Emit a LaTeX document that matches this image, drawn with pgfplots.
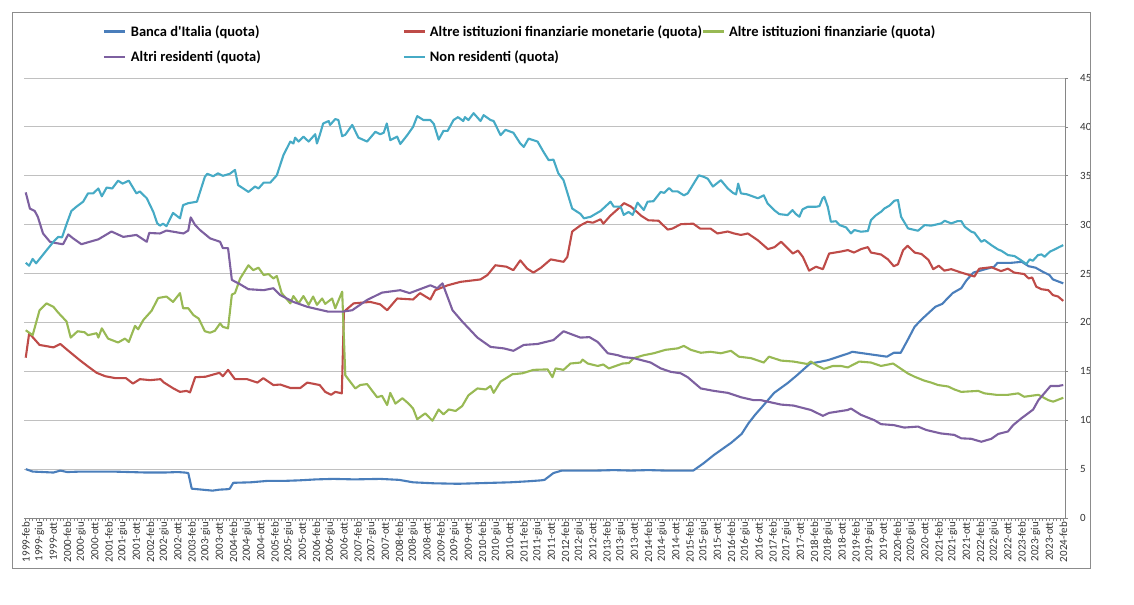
\documentclass[border=0pt]{standalone}
\usepackage{pgfplots}
\pgfplotsset{compat=1.18}
\usepackage{fontspec}
\setmainfont{Carlito}
\newfontfamily\carlito{Carlito}
\definecolor{cBI}{HTML}{4A7EBB}
\definecolor{cIFM}{HTML}{BE4B48}
\definecolor{cIF}{HTML}{98B954}
\definecolor{cAR}{HTML}{7D60A0}
\definecolor{cNR}{HTML}{46AAC5}
\definecolor{gridGray}{HTML}{C0C0C0}
\definecolor{axisGray}{HTML}{868686}
\definecolor{frameGray}{HTML}{8C8C8C}
\definecolor{labelGray}{HTML}{333333}
\begin{document}
\begin{tikzpicture}
\begin{axis}[
  scale only axis, width=1041pt, height=440pt,
  xmin=-0.5, xmax=300.5, ymin=0, ymax=45,
  axis x line*=bottom, axis y line*=right,
  axis line style={axisGray, line width=0.8pt},
  ytick={0,5,...,45},
  ymajorgrids, grid style={gridGray, line width=0.9pt},
  xtick={0,4,...,300}, minor x tick num=3,
  tick align=outside, major tick length=3pt, minor tick length=3pt,
  tick style={axisGray, line width=0.6pt},
  every tick label/.append style={font=\carlito\fontsize{11}{12}\selectfont, text=labelGray},
  /pgf/number format/assume math mode=true,
  xticklabel={\pgfmathtruncatemacro{\yr}{1999+floor(\ticknum/3)}\pgfmathtruncatemacro{\mm}{mod(\ticknum,3)}\yr-\ifcase\mm feb\or giu\or ott\fi},
  xticklabel style={rotate=90, anchor=east, inner sep=1pt},
  yticklabel style={anchor=west, inner sep=0pt, xshift=12pt},
  clip=false,
  every axis plot/.append style={line width=2.1pt, line join=round, mark=none},
  legend columns=3,
  legend cell align=left,
  legend image code/.code={\draw[#1] (0pt,0pt) -- (21pt,0pt);},
  legend style={at={(axis description cs:0.0755,1.12)}, anchor=north west,
    draw=none, fill=none, inner sep=0pt,
    font=\carlito\fontsize{14.5}{16}\bfseries\selectfont,
    nodes={inner sep=0pt},
    row sep=13pt,
    /tikz/column 1/.style={column sep=5pt},
    /tikz/column 2/.style={column sep=142pt},
    /tikz/column 3/.style={column sep=4pt},
    /tikz/column 4/.style={column sep=0pt},
    /tikz/column 5/.style={column sep=4pt}},
]
\path (axis description cs:-0.02305,-0.19545) rectangle (axis description cs:1.06628,1.17727);
\draw[frameGray, line width=1pt] (axis description cs:-0.01105,-0.11364) rectangle (axis description cs:1.02450,1.14773);
% Banca d'Italia
\addplot[cBI] table {
0 5.0
2 4.75
5 4.7
8 4.65
10 4.85
12 4.7
16 4.75
20 4.75
25 4.75
30 4.7
35 4.65
40 4.65
44 4.7
46 4.65
47 4.6
48 3.0
51 2.9
54 2.8
56 2.9
58.5 2.95
59 3.0
60 3.6
65 3.65
70 3.8
75 3.8
79 3.85
84 3.95
89 4.0
95 3.95
102.5 4.0
108 3.9
112 3.65
118 3.55
125 3.5
130 3.55
135 3.6
140 3.65
145 3.75
149 3.85
150 3.9
152.6 4.6
155 4.85
165 4.85
170 4.9
175 4.85
180 4.9
185 4.85
190 4.85
193 4.85
196 5.6
199 6.45
202 7.2
204 7.7
207 8.6
209 9.7
211 10.6
213 11.4
216.4 12.8
220.3 13.8
223 14.6
226.8 15.8
230 16.0
232 16.15
235 16.5
238 16.85
239 17.0
243 16.8
246 16.65
249 16.5
251 16.9
253 16.9
255 18.2
257 19.55
259 20.3
261 20.95
263 21.6
265 21.9
268 23.0
270.5 23.5
272 24.3
274 25.1
277 25.4
280 25.7
281 26.1
285 26.1
288 26.2
290 25.75
292 25.6
294 25.2
296 24.85
297 24.4
300 24.0
};
\addlegendentry{Banca d'Italia (quota)}
% Altre IFM
\addplot[cIFM] table {
0 16.4
1 18.9
4 17.7
8 17.45
10 17.8
12 17.2
15.6 16.15
18 15.5
20.5 14.85
23 14.5
26 14.3
29 14.3
31 13.75
33 14.2
36 14.1
39 14.2
40 13.85
42.7 13.25
44.6 12.9
46.5 13.0
47.5 12.85
49 14.4
52 14.45
56 14.85
57 14.5
58.5 15.15
60.5 14.2
64 14.2
67 13.85
68.7 14.3
71.6 13.6
73.6 13.65
76.5 13.3
79.4 13.3
81.4 13.85
85 13.6
86.6 12.9
88.3 12.6
89.5 12.9
91.4 12.75
92 21.1
94.8 21.95
99.6 22.1
102.5 21.85
104.5 21.25
107.4 22.45
112 22.35
114 23.0
117 22.35
118.4 23.3
122 23.8
125.7 24.15
131.5 24.4
133.5 24.85
135.8 25.85
139 25.7
141 25.35
143 26.35
145 25.5
146.8 25.1
149 25.6
151.8 26.45
155.5 26.2
156.6 26.7
158 29.3
160.5 29.95
162.4 30.3
164 30.2
166.2 30.55
167 30.1
169 30.9
172 31.85
173 32.2
175 31.85
178 30.9
180 30.45
183 30.4
185.6 29.5
187 29.6
189.4 30.05
193 30.1
195 29.6
198 29.6
200 29.1
203 29.3
204.8 29.1
206.8 28.95
208.8 29.1
211.7 28.4
214.6 27.5
216.5 27.7
218.4 28.25
221.8 27.05
223.3 27.35
224.7 26.7
226.5 25.3
228.5 25.7
230.5 25.45
232.3 27.05
235.7 27.25
237.7 27.4
239.5 27.15
241.5 27.5
243.5 27.7
244.4 27.15
247.3 26.95
249.3 26.45
251 25.75
252.2 25.95
253.7 27.4
255 27.85
257 27.15
259 27.0
261 26.4
262.4 25.45
264 25.8
265.6 25.3
267.6 25.45
270.5 25.1
274.3 24.7
275.7 25.5
279.2 25.65
282 25.25
284 25.5
285.8 25.1
288.7 24.95
290 24.5
291 24.6
292.2 23.65
293.7 23.4
295.7 23.3
297 22.8
298.5 22.65
300 22.2
};
\addlegendentry{Altre istituzioni finanziarie monetarie (quota)}
% Altre IF
\addplot[cIF] table {
0 19.2
2 18.7
4 21.25
6 21.95
8 21.6
9.4 21.0
11.8 20.1
13 18.45
15 19.1
17 19.0
18 18.7
20.5 18.9
21 18.45
22 19.4
23.8 18.35
26.7 17.95
28.7 18.35
29.8 18.0
31.6 19.65
32.5 19.3
34 20.25
36.4 21.2
38.3 22.5
40.7 22.65
42.6 22.1
44.6 23.0
45.5 21.45
47 21.45
48.5 20.75
50 20.4
51.8 19.1
53.3 18.95
54.7 19.15
56.2 19.9
57 19.55
58.5 19.4
59.6 22.85
60.5 23.0
62 24.5
64.4 25.85
65.8 25.35
67.3 25.6
68.8 24.85
70.2 24.95
71.6 24.5
72.6 24.75
74 23.0
76.5 21.95
77.4 22.7
78.9 21.95
80.3 22.7
81.8 21.8
83.1 22.65
84.2 21.8
85.7 22.45
86.6 21.9
88.6 22.45
89.5 21.45
91.5 23.15
92.4 14.6
95.3 13.25
96.7 13.6
98.7 13.7
101.6 12.35
103 12.5
104.5 11.55
105.4 12.8
106.9 11.7
108.9 12.25
110.7 11.7
112 11.2
113.2 10.1
115.5 10.7
117.6 9.95
119.4 11.1
120.8 10.6
122.3 11.1
124.3 10.95
126.2 11.45
128 12.55
130.6 13.25
133 13.15
134.4 13.5
135.3 12.8
137.3 13.95
140.7 14.7
143.6 14.8
146.8 15.15
150.9 15.2
152.3 14.4
153.2 15.3
155.5 15.15
157.5 15.8
160.4 15.9
161 16.2
162.5 15.8
165.4 15.55
167 15.7
168.6 15.3
172.6 15.8
174.4 15.85
175.8 16.35
178.7 16.65
181.6 16.85
185 17.2
188.5 17.35
190.3 17.6
192.3 17.2
195.2 16.9
198 17.0
201 16.85
203.9 17.1
206.2 16.5
209.7 16.35
213.4 15.9
214.9 16.5
218.4 16.1
222 16.0
226 15.75
227 16.0
229 15.55
230.8 15.25
233.4 15.55
235.7 15.55
237.7 15.4
241 16.0
244.4 15.9
247.3 15.55
250.8 15.8
255 14.8
257 14.45
259.8 14.05
261.8 13.85
263.8 13.6
266.7 13.45
268.5 13.15
270.5 12.9
275.4 13.0
277.2 12.75
280.6 12.6
284 12.6
287 12.75
288.7 12.4
292.8 12.6
295.7 12.05
297.1 11.9
300 12.3
};
\addlegendentry{Altre istituzioni finanziarie (quota)}
% Altri residenti
\addplot[cAR] table {
0 33.3
1.2 31.65
2.6 31.4
3.5 30.8
5 29.1
7 28.25
9 28.1
10.8 28.0
12.3 29.0
13.7 28.6
16.1 28.0
19 28.3
21 28.5
24.8 29.3
28.2 28.75
32 28.95
35 28.25
35.7 29.15
38.8 29.1
40.7 29.4
45.6 29.1
47 29.4
47.7 30.75
49 29.95
50.4 29.45
53.3 28.6
56.2 28.25
57 27.6
58.5 27.6
59.6 24.35
62 23.9
64.4 23.4
68.8 23.3
71.6 23.5
73.6 22.8
77.4 22.1
81.4 21.6
87.5 21.1
91.5 21.1
94.4 21.25
98.7 22.3
103 23.05
108.3 23.3
111 23.0
117 23.8
119 23.5
120.5 24.0
123.4 21.25
126.2 20.1
130.6 18.45
134.4 17.5
138.2 17.35
141 17.1
144 17.7
148 17.8
152.6 18.2
155.5 19.1
158.5 18.7
160.4 18.45
163 18.5
165.4 18.0
168.3 16.85
171.2 16.65
173 16.45
175.8 16.35
180.7 15.9
183.6 15.3
186.5 14.95
189.4 14.8
191.4 14.4
195.2 13.25
199 13.0
203 12.8
206.8 12.35
210.5 12.05
212.6 12.05
218.4 11.6
222 11.5
227 11.05
230.5 10.45
232.3 10.75
237.7 11.05
238.6 11.2
241.5 10.55
245.4 10.0
247.3 9.6
251 9.5
254 9.25
258 9.35
260.4 9.0
264.6 8.65
268.5 8.5
270.5 8.15
273.4 8.1
276.3 7.8
279.2 8.1
281.2 8.6
284 8.85
285.5 9.5
287.9 10.2
290 10.75
291.3 11.1
292.8 12.05
294.5 12.75
296.3 13.5
298.5 13.5
300 13.6
};
\addlegendentry{Altri residenti (quota)}
% Non residenti
\addplot[cNR] table {
0 26.1
1 25.8
2 26.5
3 26.05
5.5 27.15
8 28.25
9.4 28.75
10.5 28.7
11.8 30.05
13.2 31.4
14.7 31.85
16.6 32.35
18 33.2
19.5 33.2
21 33.7
22 32.9
23.4 33.8
25 33.7
26.7 34.5
28 34.2
29.8 34.5
32 33.2
33 33.4
35 32.7
36.9 31.3
38 30.15
38.8 29.9
39.7 30.1
40.7 29.85
42.6 31.2
44.6 30.65
45.5 32.0
47 32.2
49.5 32.35
51.8 34.9
52.5 35.2
54.2 34.95
55.6 35.25
57 35.0
59 35.2
60.5 35.6
61.4 34.05
64.4 33.35
66.3 33.9
67.3 33.7
68.8 34.3
70.7 34.3
72.6 35.05
74.5 37.1
76.5 38.5
77.4 38.3
77.9 38.9
78.9 38.5
80.3 39.0
81.8 38.5
83.7 39.25
84.2 38.3
85 39.15
86 40.35
87.6 40.6
88 40.2
89.5 40.8
90.4 40.7
91.5 39.05
92.4 39.2
94.4 40.2
96.2 38.9
98.7 38.5
101.1 39.5
102.5 39.25
103.5 39.4
104.4 40.35
105.4 38.65
107.4 39.0
108.3 38.25
110.3 39.15
112 40.0
113.2 41.1
115 40.7
117 40.7
118 40.3
119.4 38.7
120.8 39.6
122 39.6
123.7 40.7
125 41.0
126.5 40.6
127 41.0
128 40.7
129.5 41.4
131.5 40.6
132.4 41.2
134.4 40.7
135.3 40.6
137.3 39.15
138.7 39.7
141 39.4
143 38.3
144 37.95
145.4 38.8
148 38.5
149.7 37.45
151.2 36.6
152.6 36.65
154 35.25
155.5 34.55
158 31.65
160.4 31.1
161.4 30.65
163.3 30.8
166.2 31.4
169.1 32.35
170 31.85
172 31.85
172.9 31.0
174.3 31.3
175.5 31.0
176.9 32.25
178.7 31.5
179.8 32.35
181.5 32.4
183.6 33.35
184.6 33.25
186 33.75
187 33.4
188.5 33.4
190.3 33.0
191.4 33.2
194.6 35.05
196 34.9
197.2 34.7
198.7 33.9
201 34.55
203 33.7
204.5 33.25
205.4 33.1
206 34.2
206.8 33.2
208.6 33.1
211.7 32.7
213.4 33.0
214.5 32.17
216.4 31.49
217.9 31.08
220.3 30.98
221.7 31.49
222.7 31.08
223.7 30.81
224.6 31.56
226.1 31.83
228.5 31.83
229.5 31.9
230.4 32.69
230.9 32.85
231.9 31.83
232.8 30.3
234.3 30.35
235.3 29.96
237.2 29.72
238.6 29.11
239.6 29.45
241.5 29.28
243.5 29.35
244.4 30.47
245.9 30.98
247.3 31.32
248.3 31.66
249.7 31.94
251.2 32.45
252.2 32.52
253.1 30.81
255.1 29.62
256.5 29.5
258 29.38
259.9 29.96
261.8 29.9
264.7 30.13
265.7 30.4
267.6 30.13
269.5 30.37
270.5 30.37
271.5 29.79
273.4 29.28
274.3 29.18
276.3 28.25
277.2 28.43
279.2 27.91
281.1 27.47
282.1 27.33
284 26.89
285.9 26.79
287.4 26.45
288.4 26.21
289.3 25.97
290.3 26.45
291.2 26.31
292.7 26.89
293.7 26.96
294.6 26.72
296.1 27.23
297.5 27.47
299 27.74
300 27.91
};
\addlegendentry{Non residenti (quota)}
\end{axis}
\end{tikzpicture}
\end{document}
